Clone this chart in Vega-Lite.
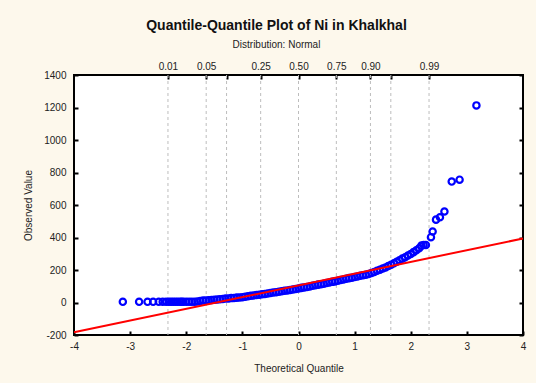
{
  "$schema": "https://vega.github.io/schema/vega-lite/v6.json",
  "width": 449,
  "height": 260,
  "autosize": {"type": "none"},
  "padding": {"left": 74, "top": 75, "right": 13, "bottom": 48},
  "background": "#FDF8EC",
  "title": {
    "text": "Quantile-Quantile Plot of Ni in Khalkhal",
    "subtitle": "Distribution: Normal",
    "anchor": "middle",
    "dx": -22,
    "offset": 11,
    "font": "Liberation Sans",
    "fontSize": 14,
    "fontWeight": "bold",
    "color": "#111111",
    "subtitleFont": "Liberation Sans",
    "subtitleFontSize": 10,
    "subtitleColor": "#222222",
    "subtitlePadding": 7
  },
  "config": {
    "font": "Liberation Sans",
    "view": {"fill": "white", "stroke": "#000000", "strokeWidth": 2},
    "axis": {
      "labelFont": "Liberation Sans",
      "labelFontSize": 10,
      "labelColor": "#222222",
      "titleFont": "Liberation Sans",
      "titleFontSize": 10,
      "titleFontWeight": "normal",
      "titleColor": "#222222",
      "domain": false,
      "grid": false,
      "tickColor": "#000000",
      "tickWidth": 2,
      "tickSize": -4,
      "labelFlush": false,
      "labelOverlap": false
    }
  },
  "resolve": {"axis": {"x": "independent", "y": "independent"}},
  "layer": [
    {
      "data": {"values": [
        {"q": "0.01", "z": -2.326},
        {"q": "0.05", "z": -1.645},
        {"q": "0.10", "z": -1.282},
        {"q": "0.25", "z": -0.674},
        {"q": "0.50", "z": 0},
        {"q": "0.75", "z": 0.674},
        {"q": "0.90", "z": 1.282},
        {"q": "0.95", "z": 1.645},
        {"q": "0.99", "z": 2.326}
      ]},
      "mark": {"type": "rule", "color": "#bdbdbd", "strokeDash": [3, 3], "strokeWidth": 1},
      "encoding": {
        "x": {
          "field": "z", "type": "quantitative",
          "scale": {"domain": [-4, 4], "nice": false, "zero": false},
          "axis": {
            "orient": "top",
            "title": null,
            "values": [-2.326, -1.645, -1.282, -0.674, 0, 0.674, 1.282, 1.645, 2.326],
            "labelExpr": "datum.value < -2 ? '0.01' : datum.value < -1.5 ? '0.05' : datum.value < -1 ? '' : datum.value < -0.3 ? '0.25' : datum.value < 0.3 ? '0.50' : datum.value < 1 ? '0.75' : datum.value < 1.5 ? '0.90' : datum.value < 2 ? '' : '0.99'",
            "labelPadding": 8
          }
        }
      }
    },
    {
      "data": {"values": [
        {"t": -3.13, "v": 4}, {"t": -2.84, "v": 4}, {"t": -2.69, "v": 4}, {"t": -2.59, "v": 4},
        {"t": -2.49, "v": 4}, {"t": -2.42, "v": 4}, {"t": -2.36, "v": 4}, {"t": -2.31, "v": 4},
        {"t": -2.27, "v": 4}, {"t": -2.23, "v": 4}, {"t": -2.19, "v": 4}, {"t": -2.15, "v": 4},
        {"t": -2.11, "v": 4}, {"t": -2.08, "v": 4},
        {"t": -2.05, "v": 4}, {"t": -2.0, "v": 4}, {"t": -1.95, "v": 5}, {"t": -1.9, "v": 5},
        {"t": -1.85, "v": 5}, {"t": -1.8, "v": 6}, {"t": -1.75, "v": 9}, {"t": -1.7, "v": 12},
        {"t": -1.65, "v": 13}, {"t": -1.6, "v": 14}, {"t": -1.55, "v": 16}, {"t": -1.5, "v": 17},
        {"t": -1.45, "v": 19}, {"t": -1.4, "v": 20}, {"t": -1.35, "v": 22}, {"t": -1.3, "v": 24},
        {"t": -1.25, "v": 25}, {"t": -1.2, "v": 27}, {"t": -1.15, "v": 28}, {"t": -1.1, "v": 30},
        {"t": -1.05, "v": 31}, {"t": -1.0, "v": 33}, {"t": -0.95, "v": 36}, {"t": -0.9, "v": 38},
        {"t": -0.85, "v": 41}, {"t": -0.8, "v": 43}, {"t": -0.75, "v": 46}, {"t": -0.7, "v": 48},
        {"t": -0.65, "v": 51}, {"t": -0.6, "v": 53}, {"t": -0.55, "v": 56}, {"t": -0.5, "v": 58},
        {"t": -0.45, "v": 61}, {"t": -0.4, "v": 63}, {"t": -0.35, "v": 66}, {"t": -0.3, "v": 69},
        {"t": -0.25, "v": 72}, {"t": -0.2, "v": 74}, {"t": -0.15, "v": 77}, {"t": -0.1, "v": 80},
        {"t": -0.05, "v": 83}, {"t": 0.0, "v": 86}, {"t": 0.05, "v": 90}, {"t": 0.1, "v": 93},
        {"t": 0.15, "v": 96}, {"t": 0.2, "v": 99}, {"t": 0.25, "v": 103}, {"t": 0.3, "v": 106},
        {"t": 0.35, "v": 110}, {"t": 0.4, "v": 113}, {"t": 0.45, "v": 116}, {"t": 0.5, "v": 120},
        {"t": 0.55, "v": 123}, {"t": 0.6, "v": 127}, {"t": 0.65, "v": 130}, {"t": 0.7, "v": 134},
        {"t": 0.75, "v": 138}, {"t": 0.8, "v": 142}, {"t": 0.85, "v": 146}, {"t": 0.9, "v": 150},
        {"t": 0.95, "v": 153}, {"t": 1.0, "v": 157}, {"t": 1.05, "v": 160}, {"t": 1.1, "v": 164},
        {"t": 1.15, "v": 168}, {"t": 1.2, "v": 171}, {"t": 1.25, "v": 176}, {"t": 1.3, "v": 182},
        {"t": 1.35, "v": 188}, {"t": 1.4, "v": 195}, {"t": 1.45, "v": 202}, {"t": 1.5, "v": 209},
        {"t": 1.55, "v": 216}, {"t": 1.6, "v": 224}, {"t": 1.65, "v": 232}, {"t": 1.7, "v": 241},
        {"t": 1.75, "v": 251}, {"t": 1.8, "v": 260}, {"t": 1.85, "v": 270}, {"t": 1.9, "v": 279},
        {"t": 1.95, "v": 289}, {"t": 2.0, "v": 298}, {"t": 2.05, "v": 310}, {"t": 2.1, "v": 322},
        {"t": 2.15, "v": 334}, {"t": 2.19, "v": 350}, {"t": 2.23, "v": 354}, {"t": 2.27, "v": 354},
        {"t": 2.36, "v": 402}, {"t": 2.39, "v": 437}, {"t": 2.45, "v": 510}, {"t": 2.52, "v": 525},
        {"t": 2.6, "v": 560}, {"t": 2.73, "v": 744}, {"t": 2.87, "v": 756}, {"t": 3.17, "v": 1213}
      ]},
      "mark": {"type": "point", "shape": "circle", "filled": false, "color": "#0000FF", "strokeWidth": 2.2, "size": 40, "opacity": 1},
      "encoding": {
        "x": {
          "field": "t", "type": "quantitative",
          "scale": {"domain": [-4, 4], "nice": false, "zero": false},
          "axis": {
            "orient": "bottom",
            "title": "Theoretical Quantile",
            "values": [-4, -3, -2, -1, 0, 1, 2, 3, 4],
            "labelExpr": "toString(datum.value)",
            "labelPadding": 10,
            "titlePadding": 12
          }
        },
        "y": {
          "field": "v", "type": "quantitative",
          "scale": {"domain": [-200, 1400], "nice": false, "zero": false},
          "axis": {
            "orient": "left",
            "title": "Observed Value",
            "values": [-200, 0, 200, 400, 600, 800, 1000, 1200, 1400],
            "labelExpr": "toString(datum.value)",
            "labelPadding": 12,
            "titlePadding": 10
          }
        }
      }
    },
    {
      "data": {"values": [{"t": -4, "v": -183}, {"t": 4, "v": 394}]},
      "mark": {"type": "line", "color": "#FF0000", "strokeWidth": 2},
      "encoding": {
        "x": {"field": "t", "type": "quantitative", "scale": {"domain": [-4, 4], "nice": false, "zero": false}, "axis": null},
        "y": {
          "field": "v", "type": "quantitative",
          "scale": {"domain": [-200, 1400], "nice": false, "zero": false},
          "axis": {
            "orient": "right",
            "title": null,
            "labels": false,
            "values": [-200, 0, 200, 400, 600, 800, 1000, 1200, 1400]
          }
        }
      }
    }
  ]
}
